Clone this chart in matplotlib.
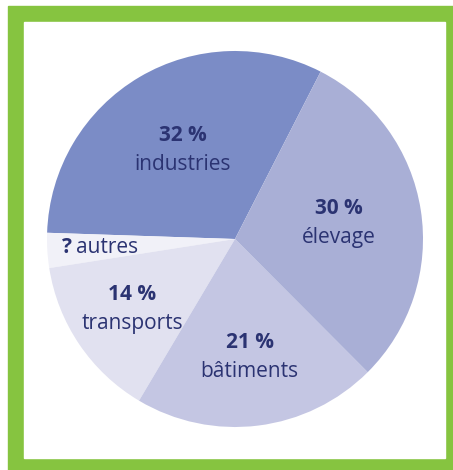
import numpy as np
import matplotlib.pyplot as plt
from matplotlib.patches import Rectangle

plt.rcParams['font.family'] = ['Open Sans', 'DejaVu Sans']

# data (counterclockwise from the top-right boundary)
sectors = ['industries', 'autres', 'transports', 'bâtiments', 'élevage']
shares = [32, 3, 14, 21, 30]
share_labels = ['32 %', '?', '14 %', '21 %', '30 %']
colors = ['#7b8cc6', '#f1f1f8', '#e1e1f0', '#c4c6e3', '#a9afd6']
label_dist = [0.55, 0.72, 0.66, 0.63, 0.56]
text_color = '#2b3372'

W, H = 453, 470
fig = plt.figure(figsize=(W / 100, H / 100), dpi=100)
ax = fig.add_axes([0, 0, 1, 1])

# green frame
ax.add_patch(Rectangle((8, 0), W - 8, H - 6, color='#86c440', zorder=0))
ax.add_patch(Rectangle((24, H - 458), 445 - 24, 458 - 22, color='white', zorder=0))

cx, cy, r = 235, H - 239, 188
wedges, _ = ax.pie(shares, colors=colors, startangle=62.9, counterclock=True,
                   center=(cx, cy), radius=r, frame=True,
                   wedgeprops=dict(linewidth=0))

fs = 15
for w, name, lab, d in zip(wedges, sectors, share_labels, label_dist):
    th = np.deg2rad((w.theta1 + w.theta2) / 2)
    x = cx + d * r * np.cos(th)
    y = cy + d * r * np.sin(th)
    if name == 'autres':
        ax.text(x - 33, y, lab, ha='center', va='center', fontsize=fs,
                fontweight='bold', color=text_color)
        ax.text(x + 7.5, y, name, ha='center', va='center', fontsize=fs,
                color=text_color)
    else:
        ax.text(x, y + 14.5, lab, ha='center', va='center', fontsize=fs,
                fontweight='bold', color=text_color)
        ax.text(x, y - 14.5, name, ha='center', va='center', fontsize=fs,
                color=text_color)

ax.set_xlim(0, W)
ax.set_ylim(0, H)
ax.set_aspect('equal')
ax.set_axis_off()

fig.savefig('out.png', dpi=100)
